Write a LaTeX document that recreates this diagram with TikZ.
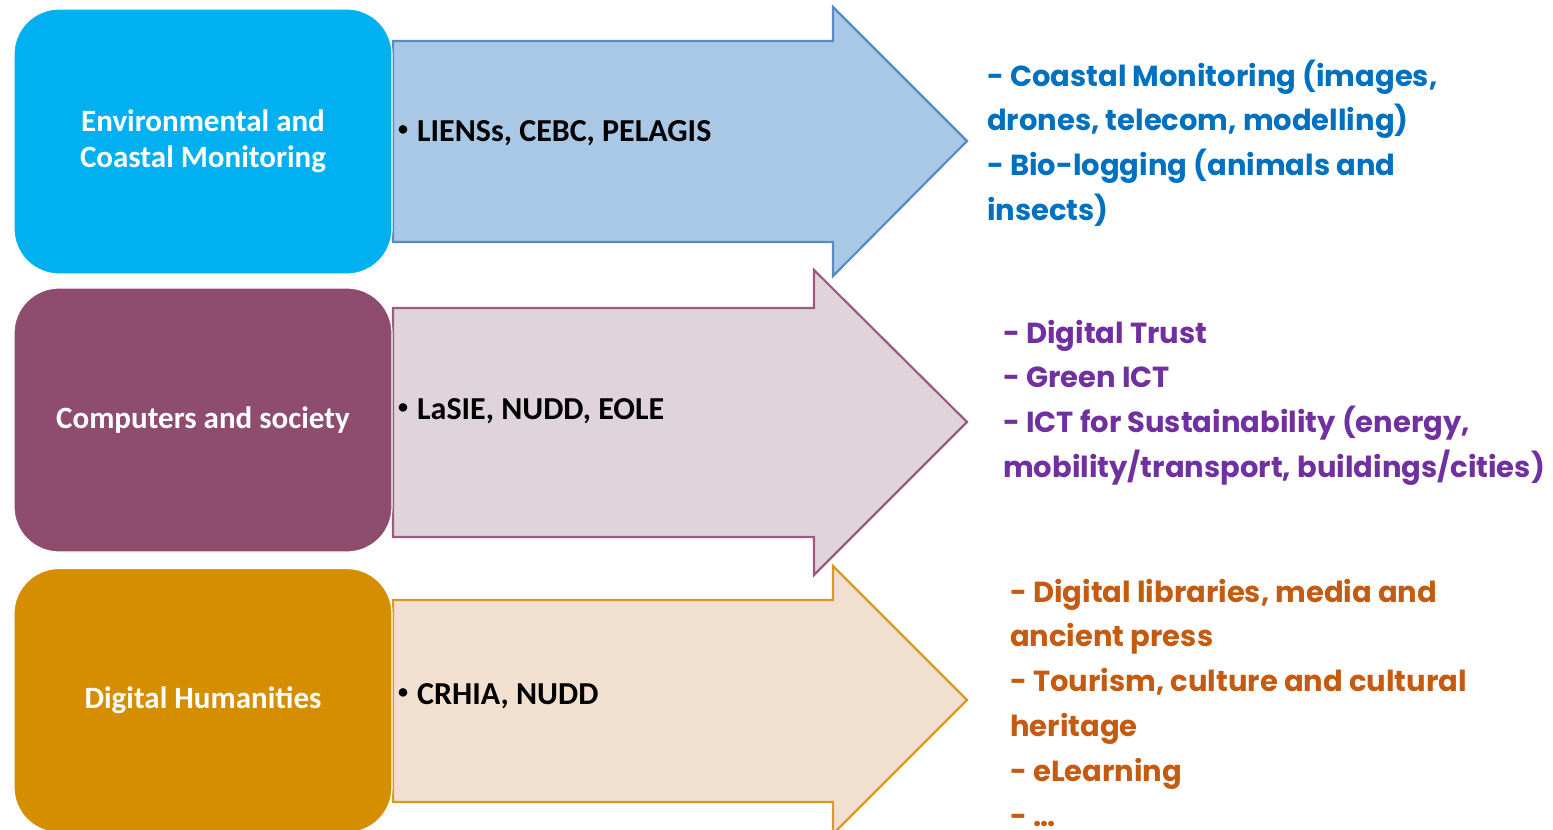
\documentclass[tikz,border=0pt]{standalone}
\usepackage{fontspec}
\setmainfont{Carlito}
\newfontfamily\geofont{Poppins}
\definecolor{boxA}{HTML}{00B0F0}
\definecolor{boxB}{HTML}{8E4C6F}
\definecolor{boxC}{HTML}{D48E00}
\definecolor{arrAfill}{HTML}{A8C8E6}
\definecolor{arrAline}{HTML}{5A8AC6}
\definecolor{arrBfill}{HTML}{DFD4DB}
\definecolor{arrBline}{HTML}{9C5C82}
\definecolor{arrCfill}{HTML}{F1DFD0}
\definecolor{arrCline}{HTML}{D99A23}
\definecolor{txtA}{HTML}{0070C0}
\definecolor{txtB}{HTML}{7030A0}
\definecolor{txtC}{HTML}{C55A11}
\newcommand{\smallbul}{\raisebox{0.18em}{\fontsize{20}{20}\selectfont\textbullet}\hspace{9pt}}
\tikzset{
  catbox/.style={draw=white, line width=1.2pt, rounded corners=45pt, minimum width=378pt, text=white, align=center, inner sep=0pt, font=\bfseries\fontsize{31}{36}\selectfont},
  bigarrow/.style={line width=2.2pt, line join=miter},
  unitlabel/.style={anchor=base west, inner sep=0pt, font=\bfseries\fontsize{32}{36}\selectfont},
  themes/.style={anchor=base west, inner sep=0pt, align=left, font=\geofont\bfseries\fontsize{29}{44.8}\selectfont}
}
\begin{document}
\begin{tikzpicture}[x=1pt,y=-1pt]
\useasboundingbox[fill=white] (0,0) rectangle (1553,830);
% arrows
\draw[bigarrow, fill=arrAfill, draw=arrAline] (393,41) -- (833,41) -- (833,7) -- (967,141) -- (833,276) -- (833,242) -- (393,242) -- cycle;
\draw[bigarrow, fill=arrBfill, draw=arrBline] (393,308) -- (814,308) -- (814,270) -- (967,422) -- (814,575) -- (814,537) -- (393,537) -- cycle;
\draw[bigarrow, fill=arrCfill, draw=arrCline] (393,600) -- (833,600) -- (833,566) -- (967,700) -- (833,834) -- (833,802) -- (393,802) -- cycle;
% category boxes
\node[catbox, fill=boxA, minimum height=265pt] (env) at (203,141.5) {Environmental and\\Coastal Monitoring};
\node[catbox, fill=boxB, minimum height=264pt] (cs) at (203,420) {Computers and society};
\node[catbox, fill=boxC, minimum height=264pt] (dh) at (203,700.5) {Digital Humanities};
% unit labels
\node[unitlabel] (uA) at (398,141) {\smallbul LIENSs, CEBC, PELAGIS};
\node[unitlabel] (uB) at (398,419) {\smallbul LaSIE, NUDD, EOLE};
\node[unitlabel] (uC) at (398,704) {\smallbul CRHIA, NUDD};
% themes (anchored at the baseline of the last line)
\node[themes, text=txtA] (tA) at (987,220.4) {- Coastal Monitoring (images,\\drones, telecom, modelling)\\- Bio-logging (animals and\\insects)};
\node[themes, text=txtB] (tB) at (1003,477.4) {- Digital Trust\\- Green ICT\\- ICT for Sustainability (energy,\\mobility/transport, buildings/cities)};
\node[themes, text=txtC] (tC) at (1010,826) {- Digital libraries, media and\\ancient press\\- Tourism, culture and cultural\\heritage\\- eLearning\\- \dots};
\end{tikzpicture}
\end{document}
